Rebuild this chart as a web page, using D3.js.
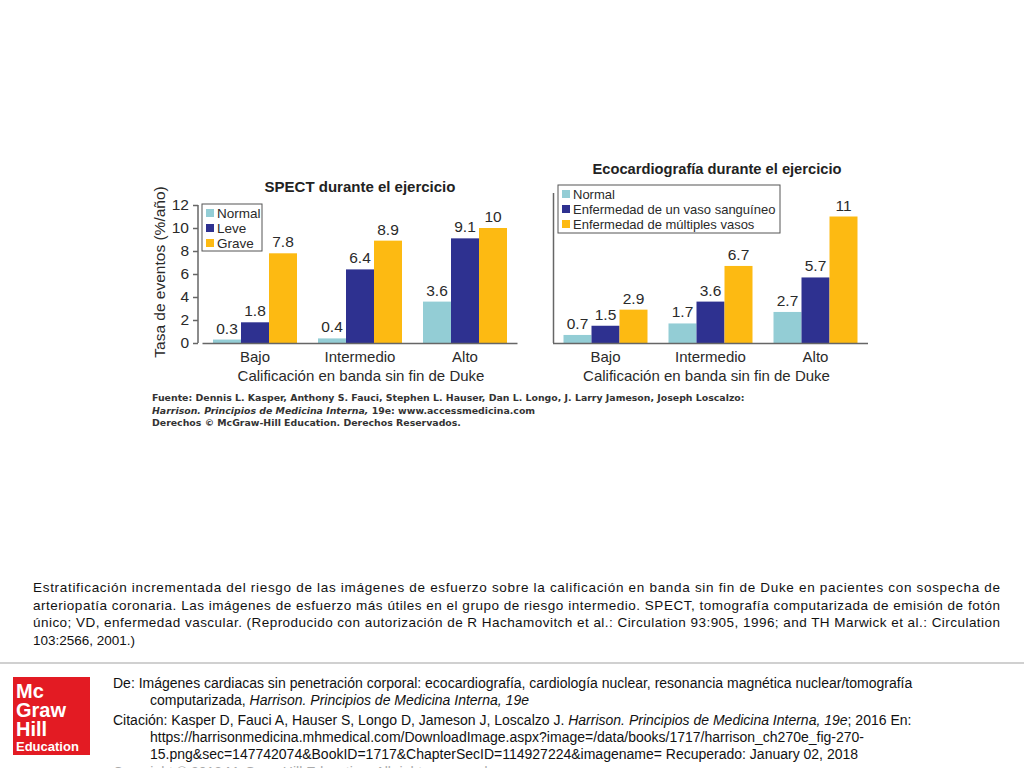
<!DOCTYPE html>
<html>
<head>
<meta charset="utf-8">
<script src="https://cdn.jsdelivr.net/npm/d3@7"></script>
<style>
html,body{margin:0;padding:0;background:#fff;overflow:hidden;}
svg{display:block;}
</style>
</head>
<body>
<svg id="chart" width="1024" height="768"></svg>
<script>
// ---------- DATA ----------
const categories = ["Bajo", "Intermedio", "Alto"];
const spectSeries = ["Normal", "Leve", "Grave"];
const spectNormal = [0.3, 0.4, 3.6];
const spectLeve = [1.8, 6.4, 9.1];
const spectGrave = [7.8, 8.9, 10];
const ecoSeries = ["Normal", "Enfermedad de un vaso sanguíneo", "Enfermedad de múltiples vasos"];
const ecoNormal = [0.7, 1.7, 2.7];
const ecoUnVaso = [1.5, 3.6, 5.7];
const ecoMultiples = [2.9, 6.7, 11];
const yTicks = [0, 2, 4, 6, 8, 10, 12];
const spectValueLabels = [["0.3", "0.4", "3.6"], ["1.8", "6.4", "9.1"], ["7.8", "8.9", "10"]];
const ecoValueLabels = [["0.7", "1.7", "2.7"], ["1.5", "3.6", "5.7"], ["2.9", "6.7", "11"]];

const colors = ["#93CDD5", "#2E3190", "#FDBA12"];
const font = "'Liberation Sans', Arial, Helvetica, sans-serif";
const textCol = "#2a2a2a";

const svg = d3.select("#chart");

const y = d3.scaleLinear().domain([0, 12]).range([343, 205]);

function drawChart(opts) {
  const g = svg.append("g");
  const x0 = d3.scaleBand().domain(categories).range(opts.xRange).paddingInner(0.2).paddingOuter(0.1);
  const x1 = d3.scaleBand().domain(opts.series).range([0, x0.bandwidth()]).padding(0);
  const data = categories.map((c, i) => ({cat: c, vals: opts.values.map((v, k) => ({s: opts.series[k], v: v[i], lab: opts.labels[k][i], k}))}));

  const groups = g.selectAll("g.grp").data(data).join("g").attr("class", "grp")
    .attr("transform", d => `translate(${x0(d.cat)},0)`);
  groups.selectAll("rect").data(d => d.vals).join("rect")
    .attr("x", d => x1(d.s)).attr("width", x1.bandwidth())
    .attr("y", d => y(d.v)).attr("height", d => y(0) - y(d.v))
    .attr("fill", d => colors[d.k]);
  groups.selectAll("text").data(d => d.vals).join("text")
    .attr("x", d => x1(d.s) + x1.bandwidth() / 2).attr("y", d => y(d.v) - 6)
    .attr("text-anchor", "middle").attr("font-family", font).attr("font-size", 15.5)
    .attr("fill", textCol).text(d => d.lab);

  // x axis
  const xAxis = d3.axisBottom(x0).tickSize(0).tickPadding(6);
  const xg = g.append("g").attr("transform", `translate(0,${y(0)})`).call(xAxis);
  xg.select(".domain").attr("d", `M${opts.xRange[0]},0.5H${opts.xRange[1]}`).attr("stroke", "#666").attr("stroke-width", 1.5);
  xg.selectAll(".tick text").attr("font-family", font).attr("font-size", 15).attr("fill", textCol).attr("dy", "0.85em");

  g.append("text").attr("x", (opts.xRange[0] + opts.xRange[1]) / 2 + opts.labelShift).attr("y", 381)
    .attr("text-anchor", "middle").attr("font-family", font).attr("font-size", 15).attr("fill", textCol)
    .text("Calificación en banda sin fin de Duke");

  g.append("text").attr("x", opts.titleX).attr("y", opts.titleY)
    .attr("text-anchor", "middle").attr("font-family", font).attr("font-size", opts.titleFs).attr("font-weight", "bold")
    .attr("fill", "#222").text(opts.title);

  // legend
  const lg = g.append("g");
  lg.append("rect").attr("x", opts.legend.x).attr("y", opts.legend.y).attr("width", opts.legend.w).attr("height", opts.legend.h)
    .attr("fill", "#fff").attr("stroke", "#555").attr("stroke-width", 1);
  opts.series.forEach((s, k) => {
    const yy = opts.legend.y + 9 + k * 15;
    lg.append("rect").attr("x", opts.legend.x + 4).attr("y", yy - 4).attr("width", 8).attr("height", 8).attr("fill", colors[k]);
    lg.append("text").attr("x", opts.legend.x + 15).attr("y", yy + 5)
      .attr("font-family", font).attr("font-size", opts.legend.fs).attr("fill", textCol).text(s);
  });
  return g;
}

// SPECT chart
const g1 = drawChart({
  xRange: [202.5, 517.5], series: spectSeries,
  values: [spectNormal, spectLeve, spectGrave], labels: spectValueLabels,
  title: "SPECT durante el ejercicio", titleX: 360, titleY: 192, titleFs: 15, labelShift: 1,
  legend: {x: 202, y: 204, w: 60, h: 47, fs: 13.5}
});
// y axis for SPECT
const yAxis = d3.axisLeft(y).tickValues(yTicks).tickSize(5).tickPadding(4).tickFormat(d3.format("d"));
const yg = svg.append("g").attr("transform", "translate(198,0)").call(yAxis);
yg.select(".domain").attr("stroke", "#666").attr("stroke-width", 1.5).attr("d", `M0,${y(12)}V${y(0)}`);
yg.selectAll(".tick line").attr("stroke", "#666").attr("stroke-width", 1.5);
yg.selectAll(".tick text").attr("font-family", font).attr("font-size", 15.5).attr("fill", textCol);
svg.append("text").attr("transform", "translate(165,272) rotate(-90)").attr("text-anchor", "middle")
  .attr("font-family", font).attr("font-size", 15.5).attr("fill", textCol).text("Tasa de eventos (%/año)");

// Echo chart
const g2 = drawChart({
  xRange: [553, 868], series: ecoSeries,
  values: [ecoNormal, ecoUnVaso, ecoMultiples], labels: ecoValueLabels,
  title: "Ecocardiografía durante el ejercicio", titleX: 717, titleY: 174, titleFs: 14.7, labelShift: -4,
  legend: {x: 558, y: 185, w: 222, h: 48, fs: 13}
});
svg.append("line").attr("x1", 553.5).attr("x2", 553.5).attr("y1", 193).attr("y2", 343)
  .attr("stroke", "#666").attr("stroke-width", 1.5);

// Source block
const src = svg.append("g").attr("font-family", "'DejaVu Sans', Verdana, sans-serif").attr("font-size", 9.4).attr("fill", "#333").attr("font-weight", "bold");
src.append("text").attr("x", 152).attr("y", 401)
  .text("Fuente: Dennis L. Kasper, Anthony S. Fauci, Stephen L. Hauser, Dan L. Longo, J. Larry Jameson, Joseph Loscalzo:");
const s2 = src.append("text").attr("x", 152).attr("y", 413.5);
s2.append("tspan").attr("font-style", "italic").text("Harrison. Principios de Medicina Interna,");
s2.append("tspan").text(" 19e: www.accessmedicina.com");
src.append("text").attr("x", 152).attr("y", 426)
  .text("Derechos © McGraw-Hill Education. Derechos Reservados.");

// Caption paragraph (justified)
const captionLines = [
  "Estratificación incrementada del riesgo de las imágenes de esfuerzo sobre la calificación en banda sin fin de Duke en pacientes con sospecha de",
  "arteriopatía coronaria. Las imágenes de esfuerzo más útiles en el grupo de riesgo intermedio. SPECT, tomografía computarizada de emisión de fotón",
  "único; VD, enfermedad vascular. (Reproducido con autorización de R Hachamovitch et al.: Circulation 93:905, 1996; and TH Marwick et al.: Circulation",
  "103:2566, 2001.)"
];
const cap = svg.append("g").attr("font-family", font).attr("font-size", 13.5).attr("fill", "#111");
captionLines.forEach((t, i) => {
  const tx = cap.append("text").attr("x", 33).attr("y", 592 + i * 17.5).text(t);
  if (i < captionLines.length - 1) tx.attr("textLength", 967).attr("lengthAdjust", "spacing");
});

// separator
svg.append("rect").attr("x", 0).attr("y", 662).attr("width", 1024).attr("height", 2).attr("fill", "#d0d0d0");

// logo
const logo = svg.append("g");
logo.append("rect").attr("x", 13).attr("y", 677).attr("width", 77).attr("height", 78).attr("fill", "#E31B23");
const lt = logo.append("g").attr("font-family", font).attr("font-weight", "bold").attr("fill", "#fff");
lt.append("text").attr("x", 16).attr("y", 698).attr("font-size", 20).text("Mc");
lt.append("text").attr("x", 16).attr("y", 717).attr("font-size", 20).text("Graw");
lt.append("text").attr("x", 16).attr("y", 736).attr("font-size", 20).text("Hill");
lt.append("text").attr("x", 16).attr("y", 751).attr("font-size", 13).text("Education");

// footer text
const ft = svg.append("g").attr("font-family", font).attr("font-size", 14).attr("fill", "#111");
ft.append("text").attr("x", 113).attr("y", 688).text("De: Imágenes cardiacas sin penetración corporal: ecocardiografía, cardiología nuclear, resonancia magnética nuclear/tomografía");
const f2 = ft.append("text").attr("x", 150).attr("y", 705);
f2.append("tspan").text("computarizada, ");
f2.append("tspan").attr("font-style", "italic").text("Harrison. Principios de Medicina Interna, 19e");
const f3 = ft.append("text").attr("x", 113).attr("y", 725);
f3.append("tspan").text("Citación: Kasper D, Fauci A, Hauser S, Longo D, Jameson J, Loscalzo J. ");
f3.append("tspan").attr("font-style", "italic").text("Harrison. Principios de Medicina Interna, 19e");
f3.append("tspan").text("; 2016 En:");
ft.append("text").attr("x", 150).attr("y", 742).text("https://harrisonmedicina.mhmedical.com/DownloadImage.aspx?image=/data/books/1717/harrison_ch270e_fig-270-");
ft.append("text").attr("x", 150).attr("y", 759).text("15.png&sec=147742074&BookID=1717&ChapterSecID=114927224&imagename= Recuperado: January 02, 2018");
ft.append("text").attr("x", 113).attr("y", 777).attr("fill", "#aaa").text("Copyright © 2018 McGraw-Hill Education. All rights reserved.");
</script>
</body>
</html>
